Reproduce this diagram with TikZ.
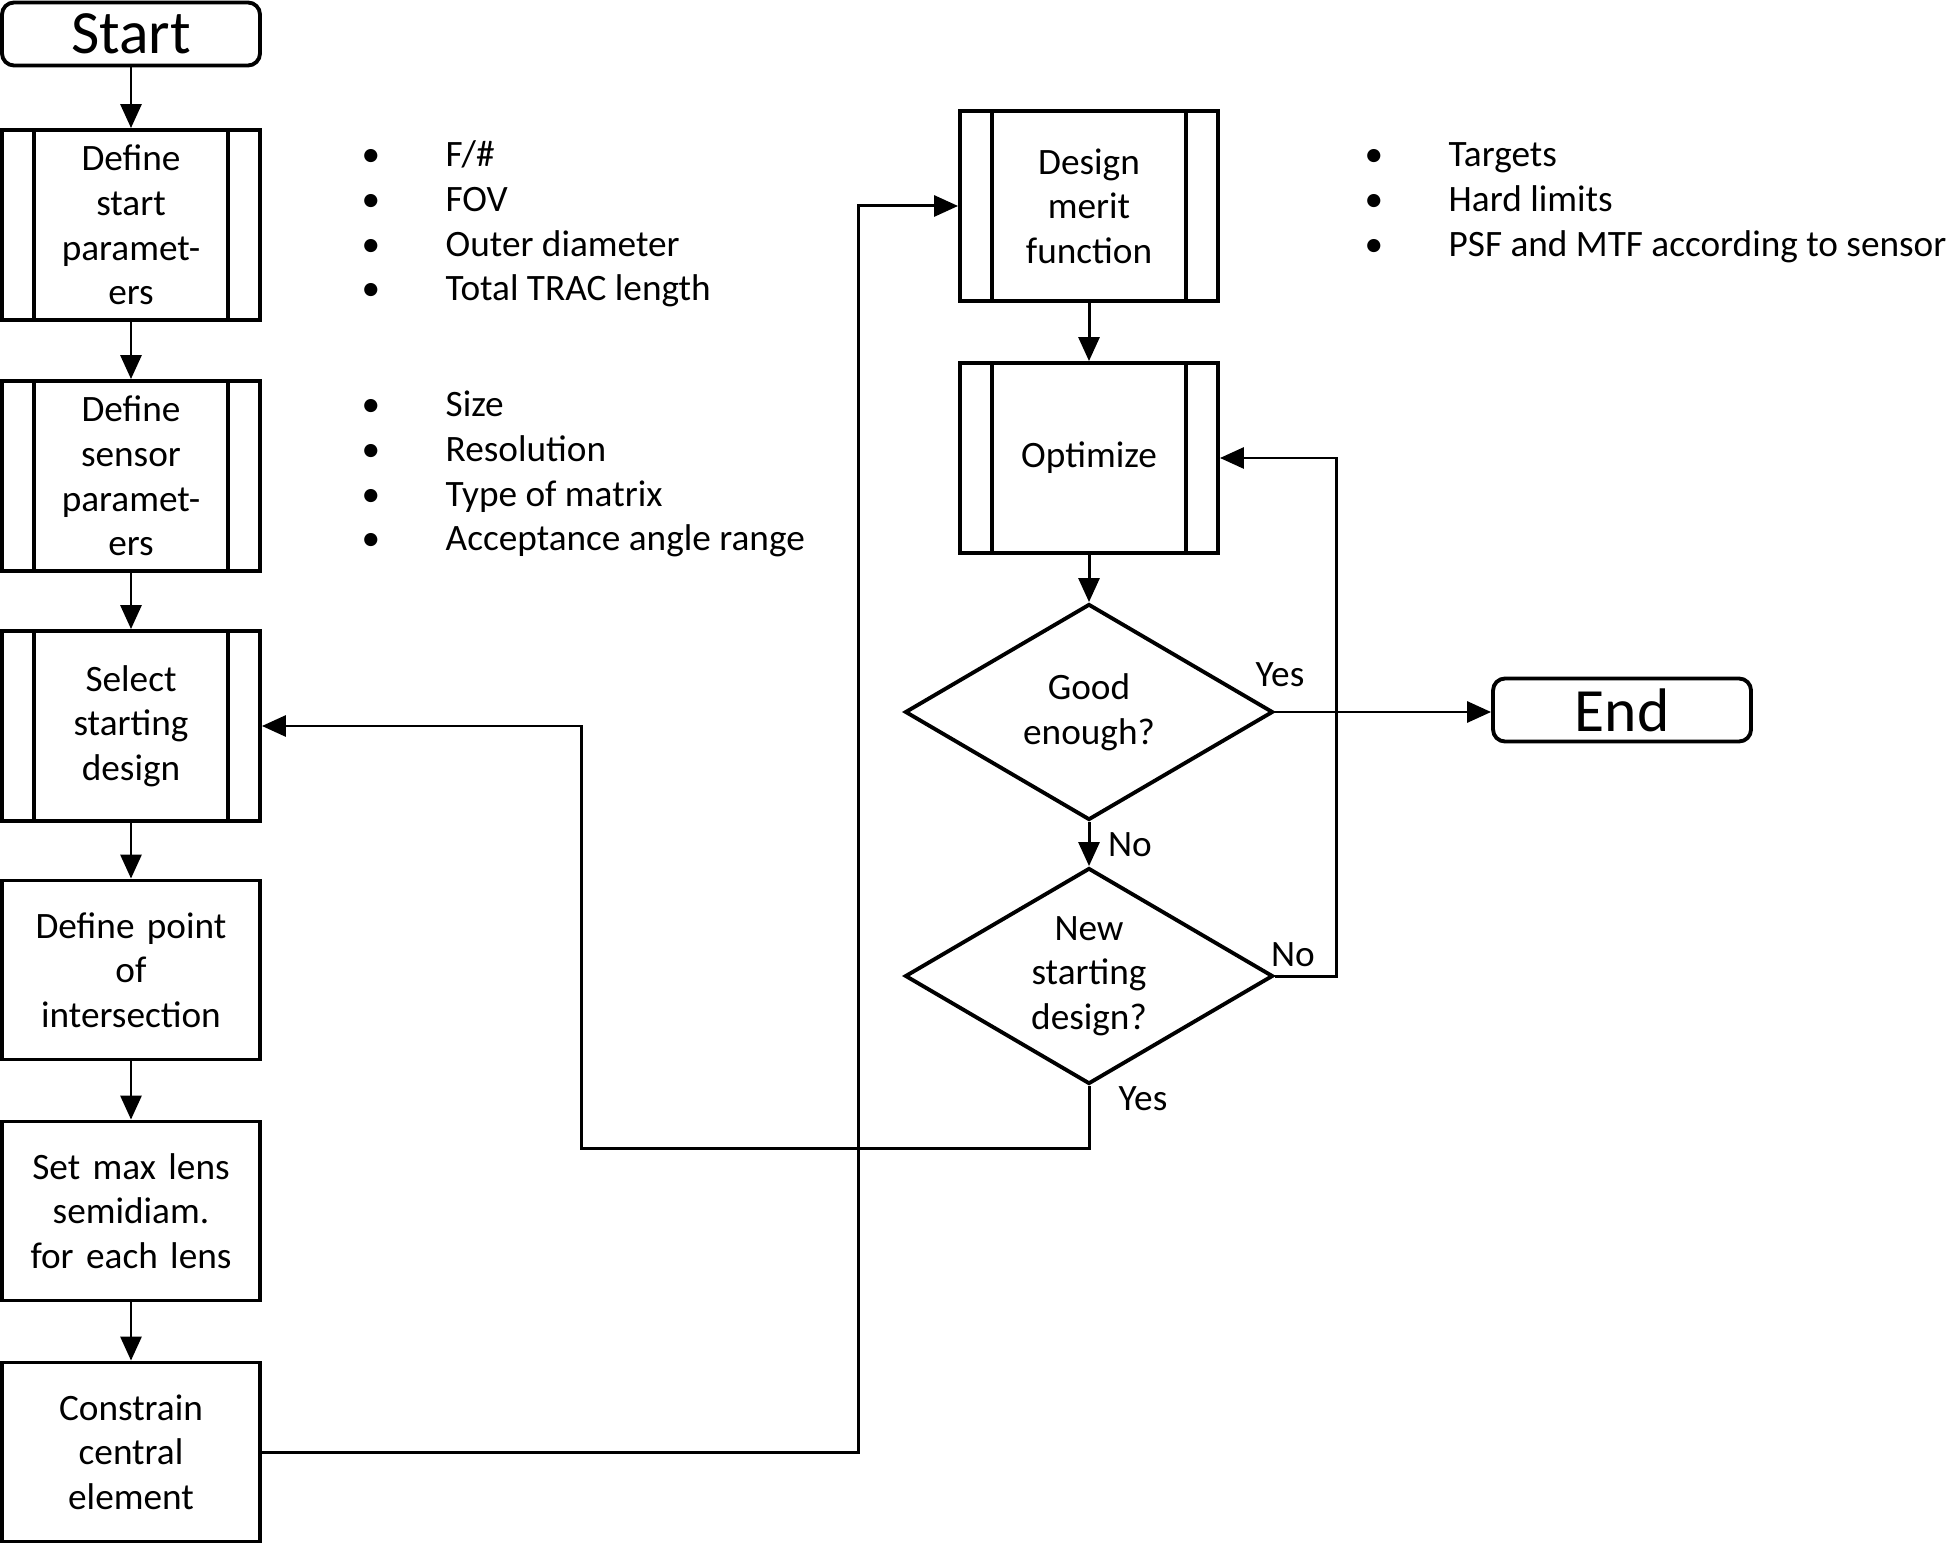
\documentclass[tikz,border=0pt]{standalone}
\usepackage{fontspec}
\setmainfont{Carlito}
\usetikzlibrary{positioning,shapes.geometric,arrows.meta,calc}

\newcommand\flowfont{\fontsize{10.6}{12.7}\selectfont}
\newcommand\termfont{\fontsize{17.5}{20}\selectfont}

\tikzset{
  box/.style={draw, line width=1.1pt, minimum width=2.58cm, minimum height=1.79cm,
    text width=2.2cm, align=center, inner sep=0pt, font=\flowfont},
  process/.style={box, minimum height=1.9cm, text width=1.9cm,
    path picture={
      \draw[line width=1.1pt] ([xshift=3.2mm]path picture bounding box.north west)
        -- ([xshift=3.2mm]path picture bounding box.south west);
      \draw[line width=1.1pt] ([xshift=-3.2mm]path picture bounding box.north east)
        -- ([xshift=-3.2mm]path picture bounding box.south east);
    }},
  terminal/.style={draw, rounded corners=1.2mm, line width=1.1pt, minimum width=2.58cm,
    minimum height=0.63cm, inner sep=0pt, font=\termfont},
  decision/.style={draw, diamond, aspect=1.7, line width=1.1pt, minimum width=3.68cm,
    minimum height=2.16cm, inner sep=0pt, align=center, font=\flowfont},
  arr/.style={line width=0.85pt, -{Triangle[length=2.4mm,width=2.1mm]}},
  lbl/.style={font=\flowfont, inner sep=0pt},
  bullets/.style={font=\flowfont, inner sep=0pt, anchor=base west},
}

\begin{document}
\begin{tikzpicture}[x=0.1mm, y=-0.1mm]
\useasboundingbox (0,0) rectangle (1948,1544);

% left column
\node[terminal] (start) at (131,34) {Start};
\node[process] (dstart) at (131,225) {Define\\start\\paramet-\\ers};
\node[process] (dsensor) at (131,476) {Define\\sensor\\paramet-\\ers};
\node[process] (select) at (131,726) {Select\\starting\\design};
\node[box] (point) at (131,970) {Define point\\of\\intersection};
\node[box] (semidiam) at (131,1211) {Set max lens\\semidiam.\\for each lens};
\node[box] (central) at (131,1452) {Constrain\\central\\element};

% right column
\node[process] (merit) at (1089,206) {Design\\merit\\function};
\node[process] (optim) at (1089,458) {Optimize};
\node[decision] (good) at (1089,712) {Good\\enough?};
\node[decision] (newstart) at (1089,976) {New\\starting\\design?};
\node[terminal] (end) at (1622,710) {End};

% bullet lists
\node[bullets] (startlist) at (361,167) {\begin{tabular}[t]{@{}p{0.84cm}@{}l@{}}
  \textbullet & F/\#\\
  \textbullet & FOV\\
  \textbullet & Outer diameter\\
  \textbullet & Total TRAC length
\end{tabular}};
\node[bullets] (sensorlist) at (361,417) {\begin{tabular}[t]{@{}p{0.84cm}@{}l@{}}
  \textbullet & Size\\
  \textbullet & Resolution\\
  \textbullet & Type of matrix\\
  \textbullet & Acceptance angle range
\end{tabular}};
\node[bullets] (meritlist) at (1364,167) {\begin{tabular}[t]{@{}p{0.84cm}@{}l@{}}
  \textbullet & Targets\\
  \textbullet & Hard limits\\
  \textbullet & PSF and MTF according to sensor
\end{tabular}};

% bends
\coordinate (jogA) at (858,800);
\coordinate (jogB) at (581,1148);
\coordinate (jogC) at (1336,700);

% connectors
\draw[arr] (start) -- (dstart);
\draw[arr] (dstart) -- (dsensor);
\draw[arr] (dsensor) -- (select);
\draw[arr] (select) -- (point);
\draw[arr] (point) -- (semidiam);
\draw[arr] (semidiam) -- (central);
\draw[arr] (central.east) -| (jogA) |- (merit.west);
\draw[arr] (merit) -- (optim);
\draw[arr] (optim) -- (good);
\draw[arr] (good.east) -- (good.east -| end.west);
\draw[arr] (good.south) -- (newstart.north);
\draw[arr] (newstart.east) -| (jogC) |- (optim.east);
\draw[arr] (newstart.south) |- (jogB) |- (select.east);

% labels
\node[lbl] (yesA) at (1280,675) {Yes};
\node[lbl] (noA) at (1130,845) {No};
\node[lbl] (noB) at (1293,955) {No};
\node[lbl] (yesB) at (1143,1099) {Yes};
\end{tikzpicture}
\end{document}
